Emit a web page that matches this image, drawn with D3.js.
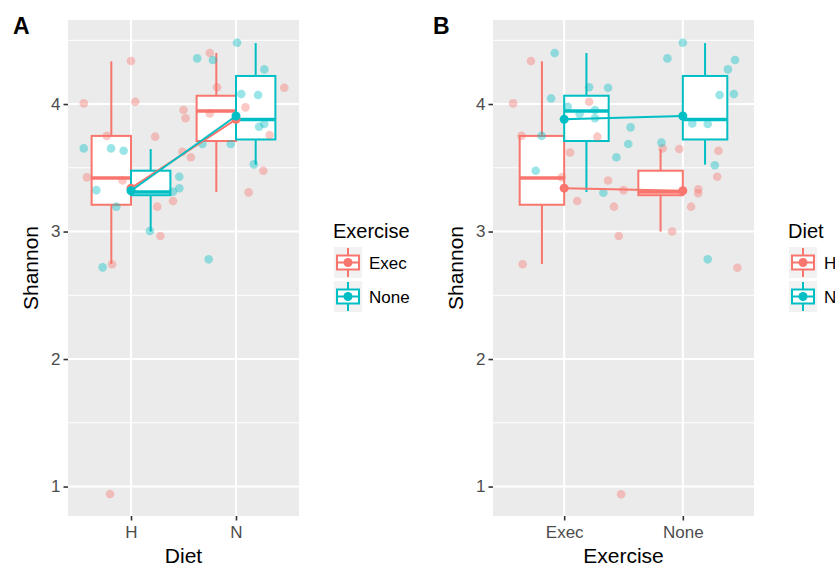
<!DOCTYPE html>
<html>
<head>
<meta charset="utf-8">
<script src="https://cdn.jsdelivr.net/npm/d3@7"></script>
<style>
  body { margin: 0; background: #fff; }
  text { font-family: "Liberation Sans", Arial, Helvetica, sans-serif; }
</style>
</head>
<body>
<svg width="835" height="570"></svg>
<script>
var svg = d3.select("svg");

var red = "#F8766D", teal = "#00BFC4";

var dietCats = ["H", "N"];
var exerciseCats = ["Exec", "None"];
var yTicks = [1, 2, 3, 4];
var yMinor = [1.5, 2.5, 3.5, 4.5];

// five-number summaries: [lower whisker, q1, median, q3, upper whisker]
var boxH_Exec = [2.745, 3.21, 3.42, 3.75, 4.335];
var boxH_None = [3.00, 3.285, 3.31, 3.477, 3.647];
var boxN_Exec = [3.31, 3.71, 3.945, 4.065, 4.40];
var boxN_None = [3.525, 3.722, 3.878, 4.22, 4.478];

// group means joined by the lines
var meanH_Exec = 3.34, meanH_None = 3.32, meanN_Exec = 3.88, meanN_None = 3.906;

// jittered samples, panel A: [diet, exercise, shannon, jitter (fraction of step)]
var pointsA = [
  ["H","Exec",4.337,0.00], ["H","Exec",4.005,-0.45], ["H","Exec",4.018,0.04],
  ["H","Exec",3.750,-0.23], ["H","Exec",3.744,0.23], ["H","Exec",3.425,-0.42],
  ["H","Exec",3.400,-0.08], ["H","Exec",3.195,0.25], ["H","Exec",3.240,0.40],
  ["H","Exec",2.965,0.28], ["H","Exec",2.743,-0.18], ["H","Exec",0.941,-0.20],
  ["H","None",3.652,-0.45], ["H","None",3.652,-0.19], ["H","None",3.634,-0.07],
  ["H","None",3.430,0.46], ["H","None",3.325,-0.33], ["H","None",3.312,0.40],
  ["H","None",3.339,0.46], ["H","None",3.195,-0.14], ["H","None",3.004,0.18],
  ["H","None",2.719,-0.27],
  ["N","Exec",4.400,-0.25], ["N","Exec",4.131,-0.18], ["N","Exec",4.128,0.46],
  ["N","Exec",3.953,-0.50], ["N","Exec",3.888,-0.48], ["N","Exec",3.927,-0.25],
  ["N","Exec",3.974,0.09], ["N","Exec",3.757,0.32], ["N","Exec",3.626,-0.51],
  ["N","Exec",3.582,-0.43], ["N","Exec",3.477,0.26], ["N","Exec",3.307,0.12],
  ["N","None",4.481,0.01], ["N","None",4.358,-0.37], ["N","None",4.345,-0.22],
  ["N","None",4.272,0.27], ["N","None",4.078,0.05], ["N","None",4.071,0.21],
  ["N","None",3.822,0.22], ["N","None",3.843,0.27], ["N","None",3.686,-0.05],
  ["N","None",3.686,-0.32], ["N","None",3.527,0.17], ["N","None",2.782,-0.26]
];

// jittered samples, panel B: [exercise, diet, shannon, jitter (fraction of step)]
var pointsB = [
  ["Exec","H",4.337,-0.28], ["Exec","H",4.005,-0.43], ["Exec","H",4.018,0.21],
  ["Exec","H",3.750,-0.36], ["Exec","H",3.744,0.28], ["Exec","H",3.620,0.05],
  ["Exec","H",3.425,-0.02], ["Exec","H",3.240,0.11], ["Exec","H",3.400,0.37],
  ["Exec","H",3.195,0.42], ["Exec","H",2.965,0.46], ["Exec","H",2.743,-0.35],
  ["Exec","H",0.940,0.48],
  ["Exec","N",4.400,-0.08], ["Exec","N",4.044,-0.11], ["Exec","N",4.131,0.21],
  ["Exec","N",4.128,0.37], ["Exec","N",3.979,0.03], ["Exec","N",3.922,0.13],
  ["Exec","N",3.888,0.26], ["Exec","N",3.953,0.26], ["Exec","N",3.750,-0.19],
  ["Exec","N",3.582,0.44], ["Exec","N",3.477,-0.24], ["Exec","N",3.304,0.33],
  ["None","H",3.325,-0.50], ["None","H",3.652,-0.17], ["None","H",3.647,-0.03],
  ["None","H",3.634,0.30], ["None","H",3.430,0.29], ["None","H",3.331,0.13],
  ["None","H",3.300,0.13], ["None","H",3.195,0.07], ["None","H",3.000,-0.09],
  ["None","H",2.716,0.46],
  ["None","N",4.481,0.00], ["None","N",4.358,-0.13], ["None","N",4.345,0.44],
  ["None","N",4.272,0.38], ["None","N",4.071,0.31], ["None","N",4.078,0.43],
  ["None","N",3.848,0.08], ["None","N",3.843,0.21], ["None","N",3.697,-0.18],
  ["None","N",3.520,0.27], ["None","N",2.782,0.21], ["None","N",3.817,-0.44],
  ["None","N",3.686,-0.46]
];

var boxStats = {
  "H|Exec": boxH_Exec, "H|None": boxH_None,
  "N|Exec": boxN_Exec, "N|None": boxN_None
};
var means = {
  "H|Exec": meanH_Exec, "H|None": meanH_None,
  "N|Exec": meanN_Exec, "N|None": meanN_None
};

var panelTop = 20, panelBottom = 516;
var y = d3.scaleLinear().domain([0.769, 4.659]).range([panelBottom, panelTop]);

function drawPanel(o) {
  var g = svg.append("g");
  var x = d3.scalePoint().domain(o.cats).range([o.left, o.right]).padding(0.6);
  var step = x.step();
  var colour = d3.scaleOrdinal().domain(o.groups).range([red, teal]);
  var dodge = d3.scaleBand().domain(o.groups).range([-0.375 * step, 0.375 * step]);
  var bw = dodge.bandwidth();

  // panel background + grid
  g.append("rect")
    .attr("x", o.left).attr("y", panelTop)
    .attr("width", o.right - o.left).attr("height", panelBottom - panelTop)
    .attr("fill", "#EBEBEB");
  g.selectAll(".minor").data(yMinor).enter().append("line")
    .attr("x1", o.left).attr("x2", o.right)
    .attr("y1", function(d) { return y(d); }).attr("y2", function(d) { return y(d); })
    .attr("stroke", "#fff").attr("stroke-width", 1);
  g.selectAll(".major").data(yTicks).enter().append("line")
    .attr("x1", o.left).attr("x2", o.right)
    .attr("y1", function(d) { return y(d); }).attr("y2", function(d) { return y(d); })
    .attr("stroke", "#fff").attr("stroke-width", 2);
  g.selectAll(".vmajor").data(o.cats).enter().append("line")
    .attr("x1", function(d) { return x(d); }).attr("x2", function(d) { return x(d); })
    .attr("y1", panelTop).attr("y2", panelBottom)
    .attr("stroke", "#fff").attr("stroke-width", 2);

  // boxplots
  var boxes = [];
  o.cats.forEach(function(c) {
    o.groups.forEach(function(gr) {
      boxes.push({ cat: c, group: gr, s: boxStats[o.key(c, gr)] });
    });
  });
  var bg = g.selectAll(".box").data(boxes).enter().append("g");
  bg.each(function(d) {
    var sel = d3.select(this);
    var bx = x(d.cat) + dodge(d.group), cx = bx + bw / 2, col = colour(d.group);
    sel.append("line").attr("x1", cx).attr("x2", cx)
      .attr("y1", y(d.s[0])).attr("y2", y(d.s[1]))
      .attr("stroke", col).attr("stroke-width", 2);
    sel.append("line").attr("x1", cx).attr("x2", cx)
      .attr("y1", y(d.s[3])).attr("y2", y(d.s[4]))
      .attr("stroke", col).attr("stroke-width", 2);
    sel.append("rect").attr("x", bx).attr("y", y(d.s[3]))
      .attr("width", bw).attr("height", y(d.s[1]) - y(d.s[3]))
      .attr("fill", "#fff").attr("stroke", col).attr("stroke-width", 2);
    sel.append("line").attr("x1", bx).attr("x2", bx + bw)
      .attr("y1", y(d.s[2])).attr("y2", y(d.s[2]))
      .attr("stroke", col).attr("stroke-width", 3.5);
  });

  // jittered points
  g.selectAll(".pt").data(o.points).enter().append("circle")
    .attr("cx", function(d) { return x(d[0]) + d[3] * step; })
    .attr("cy", function(d) { return y(d[2]); })
    .attr("r", 4.3)
    .attr("fill", function(d) { return colour(d[1]); })
    .attr("fill-opacity", 0.4);

  // mean lines
  o.groups.forEach(function(gr) {
    var m = o.cats.map(function(c) { return [x(c), y(means[o.key(c, gr)])]; });
    g.append("path").attr("d", d3.line()(m))
      .attr("fill", "none").attr("stroke", colour(gr)).attr("stroke-width", 2);
    g.selectAll(null).data(m).enter().append("circle")
      .attr("cx", function(d) { return d[0]; }).attr("cy", function(d) { return d[1]; })
      .attr("r", 4.5).attr("fill", colour(gr));
  });

  // axes
  var ya = g.append("g").attr("transform", "translate(" + o.left + ",0)")
    .call(d3.axisLeft(y).tickValues(yTicks).tickSize(4.5).tickPadding(3).tickFormat(d3.format("d")));
  var xa = g.append("g").attr("transform", "translate(0," + panelBottom + ")")
    .call(d3.axisBottom(x).tickSize(4.5).tickPadding(5.5));
  [ya, xa].forEach(function(a) {
    a.select(".domain").remove();
    a.selectAll(".tick line").attr("stroke", "#333").attr("stroke-width", 1.6);
    a.selectAll(".tick text").attr("fill", "#4D4D4D").style("font-size", "17px")
      .style("font-family", "'Liberation Sans', Arial, sans-serif");
  });

  // titles
  g.append("text").attr("x", (o.left + o.right) / 2).attr("y", 563)
    .attr("text-anchor", "middle").style("font-size", "21px").attr("fill", "#000")
    .text(o.xTitle);
  g.append("text")
    .attr("transform", "translate(" + (o.left - 30) + "," + ((panelTop + panelBottom) / 2) + ") rotate(-90)")
    .attr("text-anchor", "middle").style("font-size", "21px").attr("fill", "#000")
    .text("Shannon");
  g.append("text").attr("x", o.tagX).attr("y", 34)
    .style("font-size", "23px").style("font-weight", "bold").attr("fill", "#000")
    .text(o.tag);

  // legend
  var lx = o.right + 35;
  var lg = g.append("g");
  lg.append("text").attr("x", lx - 1).attr("y", 238)
    .style("font-size", "20px").attr("fill", "#000").text(o.legendTitle);
  o.groups.forEach(function(gr, i) {
    var ky = 247 + i * 34, kw = 28, kh = 31, col = colour(gr);
    var kg = lg.append("g").attr("transform", "translate(" + lx + "," + ky + ")");
    kg.append("rect").attr("width", kw).attr("height", kh).attr("fill", "#F2F2F2");
    kg.append("line").attr("x1", kw / 2).attr("x2", kw / 2).attr("y1", 1).attr("y2", 8.5)
      .attr("stroke", col).attr("stroke-width", 2);
    kg.append("line").attr("x1", kw / 2).attr("x2", kw / 2).attr("y1", 22.5).attr("y2", 30)
      .attr("stroke", col).attr("stroke-width", 2);
    kg.append("rect").attr("x", 3).attr("y", 8.5).attr("width", kw - 6).attr("height", 14)
      .attr("fill", "#fff").attr("stroke", col).attr("stroke-width", 2);
    kg.append("line").attr("x1", 3).attr("x2", kw - 3).attr("y1", kh / 2).attr("y2", kh / 2)
      .attr("stroke", col).attr("stroke-width", 2);
    kg.append("circle").attr("cx", kw / 2).attr("cy", kh / 2).attr("r", 4.5).attr("fill", col);
    lg.append("text").attr("x", lx + kw + 7).attr("y", ky + kh / 2 + 6)
      .style("font-size", "17px").attr("fill", "#000").text(gr);
  });
}

drawPanel({
  left: 68, right: 299, cats: dietCats, groups: exerciseCats,
  key: function(c, gr) { return c + "|" + gr; },
  points: pointsA, xTitle: "Diet", legendTitle: "Exercise", tag: "A", tagX: 13
});

drawPanel({
  left: 493, right: 754, cats: exerciseCats, groups: dietCats,
  key: function(c, gr) { return gr + "|" + c; },
  points: pointsB, xTitle: "Exercise", legendTitle: "Diet", tag: "B", tagX: 433
});
</script>
</body>
</html>
